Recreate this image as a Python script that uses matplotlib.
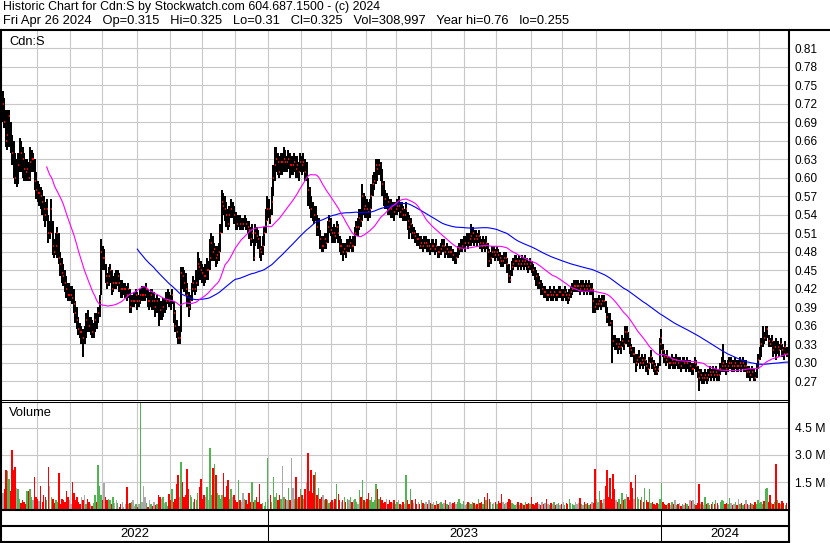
import matplotlib
matplotlib.use("Agg")
import matplotlib.pyplot as plt
import numpy as np
import pandas as pd

plt.rcParams["font.family"] = ["Liberation Sans", "DejaVu Sans"]

# daily bars, prices in cents, volume in thousands of shares
closes = [
    72, 69, 66, 67, 70, 65, 64, 63, 60, 60,
    62, 66, 64, 63, 61.5, 61, 61.5, 60, 62.5, 63,
    63, 59.5, 58, 57.5, 57.5, 57, 56, 55, 54, 55,
    51, 51, 55, 49, 48, 49, 51, 47, 46, 44.5,
    44, 43, 42, 41, 41, 41, 40.5, 39.5, 38, 37,
    35.5, 35, 35, 34, 34, 37, 36.5, 36, 36, 35,
    35.5, 37, 36, 38, 40, 48, 47, 47, 44, 43,
    44, 45, 42, 43, 43, 43, 44, 43, 42, 42,
    42, 42, 41, 42, 39, 40, 40, 40, 41, 40,
    40, 41, 41, 41, 41, 42, 40, 40, 41, 40,
    40, 39, 40, 39, 38.5, 38.5, 39, 39, 40, 41,
    40, 39.5, 41, 38, 36, 35, 34, 34, 44.5, 44,
    43, 42, 41, 39, 40, 42, 43, 42, 43, 46,
    45.5, 45, 44.5, 44, 44, 45, 45, 47, 49.5, 48,
    48.5, 47, 47.5, 48, 51, 56, 55.5, 55, 54, 52.5,
    54, 55, 55, 54, 53, 52.5, 53, 52.5, 52.5, 52.5,
    53, 52.5, 52, 51.5, 50, 51, 47, 51, 50.5, 50,
    48.5, 48, 49, 51, 53, 55, 55, 53.5, 56, 60,
    62, 63, 62.5, 61, 62.5, 62.5, 63, 62.5, 62.5, 63,
    62, 62, 62, 62.5, 61.5, 62, 61, 62.5, 62, 62.5,
    61, 61, 58, 56.5, 55, 54.5, 54, 54.5, 52, 52.5,
    50, 49, 49, 50, 49.5, 52, 53, 51.5, 51, 51,
    50.5, 52, 51, 49, 49, 48, 48.5, 48, 49, 49,
    49.5, 49, 49, 51, 52, 52, 53.5, 53, 57, 55,
    55.5, 55, 54.5, 55, 57, 59, 59.5, 62, 61.5, 62,
    61, 59, 57, 56.5, 56.5, 56, 55.5, 55, 55, 54.5,
    55, 55.5, 55.5, 54.5, 55, 54, 54, 55, 53, 52,
    52.5, 51, 51, 50.5, 50, 50, 49, 49.5, 49, 49.5,
    49.5, 49, 49, 48.5, 49, 49, 48.5, 49, 48, 48,
    48.5, 49, 49, 48, 48.5, 48, 48, 48, 47.5, 47,
    47, 48, 48.5, 49, 49, 49.5, 49.5, 50, 49.5, 50,
    50.5, 51, 50, 50.5, 50, 50.5, 49.5, 49, 49.5, 49,
    49.5, 48, 46.5, 47, 48, 48, 47.5, 48, 47.5, 47,
    46.5, 46.5, 47, 47, 46, 44, 43.5, 45.5, 46, 46.5,
    46.5, 46, 46.5, 46, 46.5, 46, 46.5, 46, 45.5, 46,
    45.5, 45, 44.5, 44, 43, 43, 42, 42, 41.5, 41.5,
    41, 41, 41.5, 41, 41, 41.5, 41, 41, 41.5, 41.5,
    41, 41, 41.5, 41, 40.5, 41, 41.5, 42, 42.5, 42.5,
    42.5, 42.5, 42, 42.5, 42.5, 42, 42.5, 42, 42.5, 42,
    42, 40, 39, 39.5, 39.5, 40, 39.5, 40, 40, 39,
    37.5, 37, 36.5, 34, 33.5, 33, 33, 32.5, 33, 32.5,
    33.5, 33, 35, 35, 33.5, 32.5, 32, 31.5, 31.5, 30,
    30.5, 31, 30, 30.5, 30, 30.5, 29.5, 29, 30, 31,
    30, 29.5, 29, 28.5, 29, 33, 34, 32, 31, 30.5,
    31, 30, 30, 30.5, 30, 30, 30.5, 30, 30, 29.5,
    30, 30, 29.5, 30, 29.5, 29.5, 29, 29, 30, 29.5,
    28.5, 27.5, 28, 27.5, 27.5, 28, 27.5, 28, 28.5, 28,
    28.5, 28, 28.5, 28, 28, 29, 29.5, 30, 29.5, 29,
    29.5, 30, 30, 29.5, 29.5, 30, 29.5, 29.5, 30, 29.5,
    30, 29.5, 29.5, 28.5, 28.5, 28, 28.5, 28, 27.5, 29,
    30.5, 31.5, 33, 34.5, 34, 35, 35.5, 33.5, 33, 33.5,
    32, 32.5, 31, 32.5, 32, 33, 32, 31.5, 32.5, 31.5, 32.5,
]

highs = [
    74, 73, 71, 71, 71, 69, 67, 66, 64, 63,
    64, 66.5, 66, 65, 64, 63, 63, 62.5, 65, 64.5,
    64, 63, 61, 59.5, 59, 58.5, 58, 57, 56, 56.5,
    54, 53, 56.5, 53, 50, 51, 52, 51, 48, 47,
    46, 45, 44, 43, 43, 42.5, 42.5, 42, 40, 39,
    37.5, 36.5, 36, 35.5, 36, 38, 38.5, 37.5, 37.5, 37,
    36.5, 38, 38, 39, 41, 50, 49, 48.5, 46, 44.5,
    45.5, 46, 45, 44, 44.5, 45, 45, 44.5, 43.5, 43.5,
    43, 43, 42.5, 43, 42, 41, 41, 41.5, 42, 41.5,
    41, 42, 42.5, 42.5, 42.5, 43, 42, 41.5, 42, 42,
    41.5, 40.5, 41, 40.5, 40, 40, 40.5, 40.5, 41.5, 42,
    41.5, 41, 42, 40, 38.5, 37, 36, 36, 45.5, 45.5,
    45, 44.5, 43, 41.5, 41, 43, 44, 43.5, 45, 48,
    47, 46.5, 46, 45.5, 46, 47, 46.5, 50, 51, 50.5,
    49.5, 49, 49, 49.5, 52.5, 58, 57.5, 57, 56, 55,
    55.5, 56.5, 56, 55.5, 54.5, 54, 54, 54, 53.5, 53.5,
    54, 53.5, 53, 53, 52, 52.5, 50, 52.5, 52, 51.5,
    50.5, 49, 50.5, 52, 55, 57, 56.5, 55, 58.5, 62,
    65, 65, 64, 63.5, 64, 64, 65, 64.5, 63.5, 64.5,
    64, 63.5, 63.5, 64, 63.5, 63.5, 62.5, 64, 63.5, 64,
    63, 62.5, 60, 58.5, 57, 56, 55.5, 55.5, 54, 53.5,
    51.5, 50.5, 50.5, 51, 51, 53, 54, 53.5, 52, 52.5,
    52, 53, 52.5, 50.5, 50, 49.5, 49.5, 49.5, 50, 50,
    50.5, 50, 50.5, 52, 53, 53.5, 55, 55, 59, 57.5,
    57, 56.5, 56, 56.5, 59, 60.5, 61, 63, 63, 63,
    62.5, 61.5, 59.5, 58, 57.5, 57, 56.5, 56.5, 56, 56,
    56, 56.5, 57, 56, 56, 55.5, 55, 56, 54.5, 54,
    53.5, 52.5, 52, 51.5, 51, 51, 50.5, 50.5, 50, 50.5,
    50.5, 50, 50, 49.5, 50, 50, 49.5, 50, 49, 49,
    49.5, 50, 50, 49, 49.5, 49, 49, 49, 48.5, 48,
    48, 49, 49.5, 50, 50, 50.5, 50.5, 51, 51, 51,
    52.5, 52, 51.5, 51.5, 51, 51.5, 50.5, 50, 50.5, 50,
    50.5, 49.5, 48.5, 48, 49, 49, 48.5, 49, 48.5, 48,
    47.5, 47.5, 48, 48, 47, 46, 45, 46.5, 47, 47.5,
    47.5, 47, 47.5, 47, 47.5, 47, 47.5, 47, 46.5, 47,
    46.5, 46, 45.5, 45, 44.5, 44, 43.5, 43, 42.5, 42.5,
    42, 42, 42.5, 42, 42, 42.5, 42, 42, 42.5, 42.5,
    42, 42, 42.5, 42, 41.5, 42, 42.5, 43, 43.5, 43.5,
    43.5, 43.5, 43, 43.5, 43.5, 43, 43.5, 43, 43.5, 43,
    43, 42, 40.5, 40.5, 40.5, 41, 40.5, 41, 41, 40,
    39, 38, 38, 37, 34.5, 34.5, 34, 34, 34, 33.5,
    34.5, 34, 36, 36, 35, 34, 33, 32.5, 32.5, 31.5,
    31.5, 32, 31, 31.5, 31, 31.5, 30.5, 30, 31, 32,
    31, 30.5, 30, 29.5, 30, 34, 35.5, 33, 32, 31.5,
    32, 31, 31, 31.5, 31, 31, 31.5, 31, 31, 30.5,
    31, 31, 30.5, 31, 30.5, 30.5, 30, 30, 31, 30.5,
    29.5, 29, 29, 28.5, 28.5, 29, 28.5, 29, 29.5, 29,
    29.5, 29, 29.5, 29, 29, 30, 31, 33, 30.5, 30,
    30.5, 31, 31, 30.5, 30.5, 31, 30.5, 30.5, 31, 30.5,
    31, 30.5, 30.5, 29.5, 29.5, 29, 29.5, 29, 28.5, 30,
    31.5, 32.5, 34, 36, 35, 36, 36, 34.5, 34, 34.5,
    33.5, 33.5, 34, 33.5, 33, 34, 33, 32.5, 33.5, 32.5, 32.5,
]

lows = [
    69, 68, 65, 64.5, 65, 64, 62, 60, 59, 58.5,
    59, 61, 61, 60, 59.5, 59.5, 59.5, 59.5, 59.5, 61,
    61, 58, 56.5, 56, 55.5, 55, 54, 53, 52, 53,
    49.5, 50, 51, 47.5, 47, 47.5, 47, 46, 44, 43,
    42.5, 41.5, 40.5, 40, 40, 40, 39.5, 38, 36.5, 35.5,
    34.5, 34, 33, 31, 33, 34, 35, 35, 34.5, 34,
    34, 35, 35.5, 36.5, 37.5, 41, 45, 45, 43, 42,
    42.5, 43, 41, 41.5, 42, 42, 42.5, 41.5, 40.5, 40.5,
    41, 40.5, 40, 40.5, 38, 38, 39, 39, 39.5, 38.5,
    39, 39.5, 40, 40, 40, 40.5, 39, 38.5, 39, 38.5,
    38.5, 37.5, 38, 36, 37, 37, 37.5, 38, 38.5, 39.5,
    39, 38.5, 39.5, 36.5, 35, 34, 33, 33, 35, 42,
    41.5, 41, 39, 37.5, 38.5, 40, 41.5, 41, 41.5, 42.5,
    43.5, 43.5, 43, 42.5, 43, 43.5, 43.5, 45, 46.5, 46.5,
    46.5, 45.5, 46, 46.5, 48, 51, 54, 53, 52, 51.5,
    52, 53.5, 53.5, 52.5, 51.5, 51.5, 52, 51.5, 51.5, 51.5,
    52, 51.5, 51, 50, 49, 49.5, 46.5, 49, 49.5, 48.5,
    47, 46.5, 47.5, 49, 51, 53, 53.5, 52.5, 54, 57,
    59.5, 61, 60.5, 60, 60.5, 60.5, 61, 61, 61, 61.5,
    60, 60.5, 60.5, 61, 60, 60, 59.5, 61, 60.5, 61,
    59.5, 59.5, 55.5, 55, 53.5, 53, 52.5, 53, 50.5, 50.5,
    48.5, 48, 48, 48.5, 48.5, 49.5, 51, 50.5, 49.5, 49.5,
    49.5, 50, 49.5, 48, 47.5, 46.5, 47.5, 47, 48, 48,
    48.5, 48, 48, 49, 50.5, 50.5, 51.5, 52, 53, 54,
    53.5, 53.5, 53, 53.5, 55, 57, 58, 59, 59.5, 60.5,
    59.5, 57, 55.5, 55, 55, 54, 54, 53.5, 53.5, 53,
    54, 54, 54.5, 53.5, 53.5, 53, 53, 53, 51.5, 50,
    51, 50, 50, 49.5, 49, 49, 48.5, 48.5, 48, 48.5,
    48.5, 48, 48, 47.5, 48, 48, 47.5, 48, 47, 47,
    47.5, 48, 48, 47, 47.5, 47, 47, 47, 46.5, 46,
    46, 47, 47.5, 48, 48, 48.5, 48, 49, 48.5, 49,
    49, 49.5, 49, 49.5, 49, 49.5, 48.5, 48, 48.5, 48,
    48.5, 45.5, 45.5, 46, 47, 47, 46.5, 47, 46.5, 46,
    45.5, 45.5, 46, 46, 44.5, 43, 43, 44, 45, 45.5,
    45.5, 45, 45.5, 45, 45.5, 45, 45.5, 45, 44.5, 45,
    44.5, 44, 43.5, 42.5, 42, 42, 41, 41, 40.5, 40.5,
    40, 40, 40.5, 40, 40, 40.5, 40, 40, 40.5, 40.5,
    40, 40, 40.5, 40, 39.5, 40, 40.5, 41, 41.5, 41.5,
    41.5, 41.5, 41, 41.5, 41.5, 41, 41.5, 41, 41.5, 41,
    41, 38, 38, 38.5, 38.5, 39, 38.5, 39, 39, 38,
    36.5, 36, 36, 30, 32.5, 32, 32, 31.5, 32, 31.5,
    32.5, 32, 33, 33, 32.5, 31.5, 31, 31, 30, 28.5,
    29.5, 30, 29, 29.5, 29, 29.5, 28.5, 28, 29, 30,
    29, 28.5, 28, 28, 28.5, 29.5, 32, 31, 30, 29.5,
    30, 29, 29, 29.5, 29, 29, 29.5, 29, 29, 28.5,
    29, 29, 28.5, 29, 28.5, 28.5, 28, 28, 29, 28.5,
    27.5, 25.5, 27, 26.5, 26.5, 27, 26.5, 27, 27.5, 27,
    27.5, 27, 27.5, 27, 27, 28, 28.5, 28.5, 28.5, 28,
    28.5, 29, 29, 28.5, 28.5, 29, 28.5, 28.5, 29, 28.5,
    29, 28.5, 28.5, 27.5, 27.5, 27, 27.5, 27, 27, 27.5,
    29, 30.5, 31, 32.5, 33, 33.5, 34, 32.5, 32.5, 32.5,
    31, 31.5, 30.5, 31.5, 31, 32, 31, 30.5, 31.5, 31, 31,
]

volumes = [
    900, 1100, 2150, 2100, 1700, 1000, 3250, 2150, 2350, 1200,
    1150, 600, 350, 500, 400, 300, 1000, 1000, 1100, 700,
    500, 1800, 700, 600, 450, 1300, 400, 800, 700, 500,
    2350, 1300, 700, 600, 350, 500, 400, 2000, 300, 600,
    500, 400, 1000, 700, 500, 300, 1500, 900, 500, 700,
    400, 300, 700, 500, 800, 300, 600, 400, 300, 200,
    350, 800, 400, 2450, 1300, 800, 500, 1450, 700, 500,
    600, 500, 300, 700, 350, 500, 350, 150, 300, 400,
    150, 300, 1250, 300, 350, 400, 500, 200, 300, 150,
    300, 6500, 400, 1300, 700, 350, 150, 500, 300, 200,
    400, 250, 300, 800, 700, 600, 700, 350, 400, 200,
    850, 500, 1100, 400, 600, 1400, 1900, 700, 2600, 1500,
    700, 800, 2200, 1100, 800, 700, 400, 600, 500, 900,
    1250, 1700, 600, 800, 700, 1250, 500, 3350, 800, 2300,
    2500, 1900, 900, 800, 600, 800, 2000, 700, 1300, 1600,
    600, 1100, 700, 800, 500, 400, 1600, 500, 400, 900,
    600, 500, 300, 900, 400, 1500, 400, 500, 700, 400,
    1400, 300, 350, 200, 400, 2800, 600, 800, 400, 1800,
    700, 900, 500, 800, 600, 2400, 700, 600, 500, 1200,
    500, 2850, 1200, 600, 1800, 600, 700, 1100, 800, 600,
    1100, 1500, 3100, 1000, 2150, 900, 1900, 2050, 800, 1200,
    600, 700, 800, 500, 600, 500, 350, 400, 500, 400,
    600, 1400, 850, 500, 400, 500, 700, 400, 600, 500,
    700, 400, 500, 600, 400, 300, 1050, 700, 1600, 500,
    400, 600, 900, 500, 700, 400, 500, 1400, 1150, 600,
    700, 500, 350, 400, 600, 300, 500, 400, 350, 500,
    300, 400, 500, 300, 250, 400, 300, 1900, 500, 300,
    1100, 500, 350, 550, 300, 400, 300, 500, 350, 300,
    400, 300, 500, 350, 300, 400, 250, 450, 300, 350,
    400, 300, 350, 500, 300, 250, 400, 300, 350, 400,
    300, 400, 600, 350, 300, 450, 250, 300, 400, 350,
    300, 400, 350, 250, 300, 550, 350, 400, 300, 700,
    500, 900, 600, 400, 300, 350, 400, 300, 450, 350,
    850, 400, 300, 350, 400, 600, 500, 350, 300, 250,
    300, 400, 250, 350, 300, 250, 400, 300, 350, 300,
    700, 300, 250, 350, 400, 300, 250, 400, 300, 350,
    600, 300, 250, 350, 300, 400, 250, 300, 350, 250,
    300, 400, 250, 350, 300, 600, 350, 300, 250, 400,
    300, 350, 650, 300, 250, 400, 300, 350, 250, 300,
    400, 350, 2200, 600, 400, 1000, 500, 350, 600, 1300,
    2150, 700, 1750, 600, 1950, 1100, 500, 400, 600, 300,
    900, 500, 600, 850, 700, 500, 1500, 1200, 600, 1900,
    700, 600, 500, 700, 400, 1200, 500, 400, 1150, 350,
    400, 300, 250, 350, 300, 600, 1450, 400, 300, 250,
    300, 350, 250, 400, 300, 500, 250, 300, 350, 200,
    300, 250, 350, 300, 200, 500, 450, 500, 300, 250,
    350, 1400, 300, 400, 250, 700, 300, 350, 250, 300,
    400, 300, 500, 350, 250, 400, 500, 450, 300, 350,
    300, 650, 350, 250, 300, 400, 250, 550, 300, 350,
    250, 300, 500, 300, 250, 350, 300, 250, 400, 300,
    500, 350, 400, 300, 450, 1100, 1200, 400, 800, 350,
    300, 400, 2500, 500, 350, 300, 450, 350, 250, 350, 309,
]

price_ticks = [0.27, 0.30, 0.33, 0.36, 0.39, 0.42, 0.45, 0.48, 0.51,
               0.54, 0.57, 0.60, 0.63, 0.66, 0.69, 0.72, 0.75, 0.78, 0.81]
volume_ticks = [1.5, 3.0, 4.5]
volume_labels = ["1.5 M", "3.0 M", "4.5 M"]

title_line = "Historic Chart for Cdn:S by Stockwatch.com 604.687.1500 - (c) 2024"
quote_line = ("Fri Apr 26 2024   Op=0.315   Hi=0.325   Lo=0.31   Cl=0.325   "
              "Vol=308,997   Year hi=0.76   lo=0.255")

close = np.array(closes) / 100
high = np.maximum(np.array(highs) / 100, close)
low = np.minimum(np.array(lows) / 100, close)
vol = np.array(volumes) / 1000
x = np.arange(len(close))
dates = pd.bdate_range(end="2024-04-26", periods=len(close))

ma_short = pd.Series(close).rolling(30).mean()
ma_long = pd.Series(close).rolling(90).mean()

change = np.diff(close, prepend=close[0])
vol_colors = np.where(change > 0, "#50b450", np.where(change < 0, "#ff0000", "#a9a9a9"))

new_month = np.flatnonzero(dates.month != np.roll(dates.month, 1))[1:]
new_year = np.flatnonzero(dates.year != np.roll(dates.year, 1))[1:]
month_x = new_month - 0.5
year_x = new_year - 0.5

W, H = 830, 543
XLIM = (-1.3, len(close) - 0.5)
GRID = "#c8c8c8"


def box(left, top, right, bottom):
    return [left / W, 1 - bottom / H, (right - left) / W, (bottom - top) / H]


fig = plt.figure(figsize=(W / 100, H / 100), dpi=100)

# price panel
ax_p = fig.add_axes(box(1, 31, 789, 400))
ax_p.set_xlim(*XLIM)
ax_p.set_ylim(0.2397, 0.838)
ax_p.set_yticks(price_ticks)
ax_p.set_yticklabels([f"{t:.2f}" for t in price_ticks])
ax_p.set_xticks(month_x)
ax_p.set_xticklabels([])
ax_p.yaxis.tick_right()
ax_p.tick_params(length=0, labelsize=8.5, pad=4)
ax_p.grid(color=GRID, lw=0.8)
ax_p.set_axisbelow(True)
for s in ax_p.spines.values():
    s.set_visible(False)

ax_p.vlines(x, low, high, color="black", lw=1.2, antialiased=False)
ax_p.hlines(close, x, x + 0.6, color="#ff0000", lw=1.1, antialiased=False)
ax_p.plot(x, ma_long, color="#0000ff", lw=0.8)
ax_p.plot(x, ma_short, color="#ff00ff", lw=0.8)
ax_p.text(8 / 788, 1 - 5 / 369, "Cdn:S", transform=ax_p.transAxes,
          fontsize=9.3, va="top", ha="left")

# volume panel
ax_v = fig.add_axes(box(1, 402, 789, 509.5))
ax_v.set_xlim(*XLIM)
ax_v.set_ylim(0, 5.9)
ax_v.set_yticks(volume_ticks)
ax_v.set_yticklabels(volume_labels)
ax_v.set_xticks(month_x)
ax_v.set_xticklabels([])
ax_v.yaxis.tick_right()
ax_v.tick_params(length=0, labelsize=8.8, pad=4)
ax_v.grid(color=GRID, lw=0.8)
ax_v.set_axisbelow(True)
for s in ax_v.spines.values():
    s.set_visible(False)
ax_v.bar(x, vol, width=0.95, color=vol_colors, linewidth=0, antialiased=False)
ax_v.text(8 / 788, 1 - 5 / 107.5, "Volume", transform=ax_v.transAxes,
          fontsize=9.3, va="top", ha="left")

# date strip
ax_d = fig.add_axes(box(1, 509.5, 789, 541.5))
ax_d.set_xlim(*XLIM)
ax_d.set_ylim(0, 1)
ax_d.axis("off")
for xv in year_x:
    ax_d.axvline(xv, color="black", lw=0.75)
edges = [XLIM[0], *year_x, XLIM[1]]
for i in range(len(edges) - 1):
    ax_d.text((edges[i] + edges[i + 1]) / 2, 0.24, str(dates.year[0] + i),
              fontsize=9.4, ha="center", va="center")

# frame lines in pixel space
ax_f = fig.add_axes([0, 0, 1, 1], zorder=10)
ax_f.set_xlim(0, W)
ax_f.set_ylim(H, 0)
ax_f.axis("off")
thick, thin = 1.5, 0.75
ax_f.plot([0, W], [30.2, 30.2], color="black", lw=thick)
ax_f.plot([789, 789], [30, H], color="black", lw=thick)
ax_f.plot([0.7, 0.7], [30, H], color="black", lw=thick)
ax_f.plot([0, 789], [399.8, 399.8], color="black", lw=thin)
ax_f.plot([0, 789], [402.2, 402.2], color="black", lw=thin)
for yy in (509.6, 526, 541.6):
    ax_f.plot([0, 789], [yy, yy], color="black", lw=thick)

fig.text(3 / W, 1 - 1 / H, title_line, fontsize=8.9, va="top", ha="left")
fig.text(3 / W, 1 - 15 / H, quote_line, fontsize=9.3, va="top", ha="left")

fig.savefig("out.png", dpi=100)
